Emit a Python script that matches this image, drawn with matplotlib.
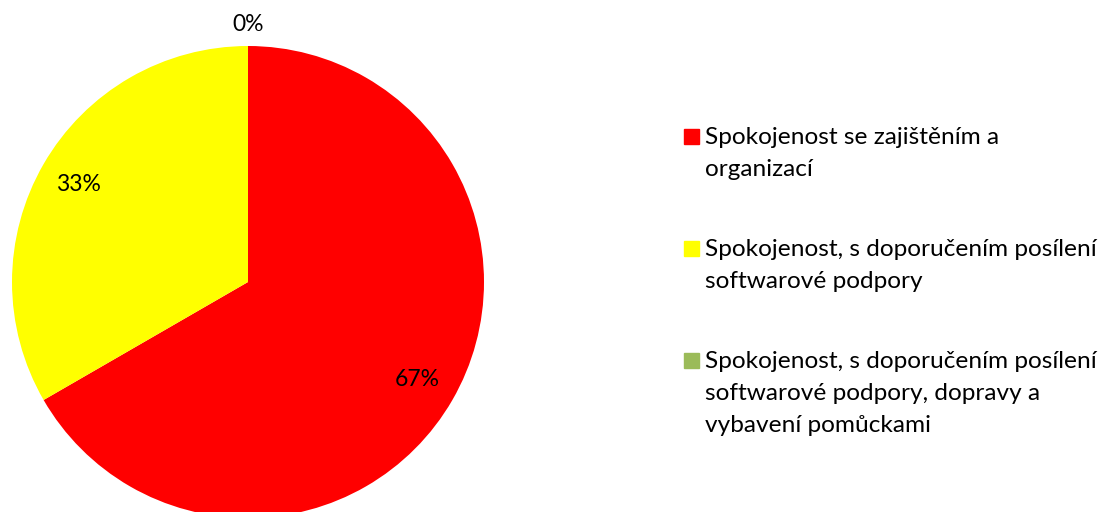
import matplotlib
matplotlib.use('Agg')
import matplotlib.pyplot as plt
from matplotlib.patches import Rectangle

# data
categories = ['Spokojenost se zajištěním a\norganizací',
              'Spokojenost, s doporučením posílení\nsoftwarové podpory',
              'Spokojenost, s doporučením posílení\nsoftwarové podpory, dopravy a\nvybavení pomůckami']
values = [2, 1, 0]
colors = ['#FF0000', '#FFFF00', '#9BBB59']

plt.rcParams['font.family'] = ['Lato', 'DejaVu Sans']
W, H = 1106, 512
fig = plt.figure(figsize=(W / 100, H / 100), dpi=100)

# pie: centre (248, 282) px from top, radius 236 px
cx, cy, r = 248, 282, 236
ax = fig.add_axes([(cx - r) / W, (H - cy - r) / H, 2 * r / W, 2 * r / H])
wedges, texts, autotexts = ax.pie(values, colors=colors, startangle=90, counterclock=False,
                                  autopct='%.0f%%', pctdistance=0.83,
                                  wedgeprops=dict(linewidth=0),
                                  textprops=dict(fontsize=16.5, color='black'))
ax.set_xlim(-1, 1)
ax.set_ylim(-1, 1)
ax.set_aspect('equal')
ax.axis('off')

# zero slice label sits outside the pie
for t, v in zip(autotexts, values):
    if v == 0:
        t.set_position((0, 1.09))

# legend, drawn by hand so the marker lines up with the first line
fs = 17.6
lsp = 32    # px between lines
base = 144  # baseline of first legend line, px from top
for lab, col in zip(categories, colors):
    n = lab.count('\n')
    fig.patches.append(Rectangle((684 / W, 1 - base / H), 15 / W, 15 / H,
                                 transform=fig.transFigure, color=col))
    # baseline alignment uses the last line here
    fig.text(705 / W, 1 - (base + lsp * n) / H, lab, fontsize=fs, va='baseline', ha='left',
             linespacing=1.65, transform=fig.transFigure)
    base += lsp * n + 80

fig.savefig('out.png', dpi=100)
